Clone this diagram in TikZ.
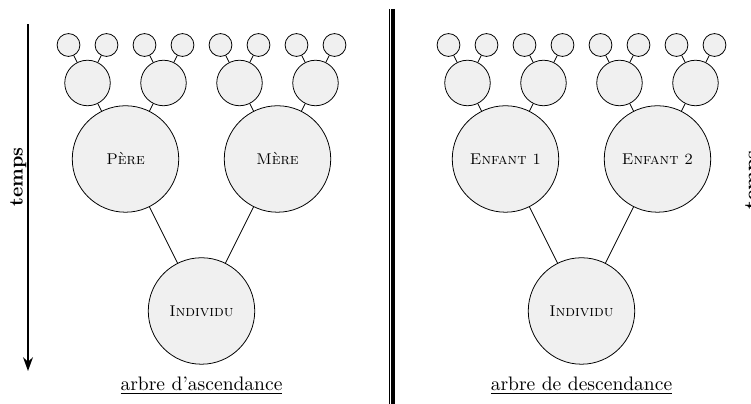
\documentclass[tikz,border=0pt]{standalone}
\usetikzlibrary{arrows.meta}
\definecolor{fondnoeud}{gray}{0.94}

\begin{document}
\begin{tikzpicture}[x=19.45pt,y=19.45pt,
    grand/.style={draw,circle,fill=fondnoeud,inner sep=0pt,minimum size=54.5pt,font=\footnotesize},
    moyen/.style={draw,circle,fill=fondnoeud,inner sep=0pt,minimum size=23.3pt},
    petit/.style={draw,circle,fill=fondnoeud,inner sep=0pt,minimum size=11.7pt},
    legende/.style={anchor=base},
    axe/.style={anchor=base,rotate=90,font=\bfseries}]
        \useasboundingbox (-5.303,-2.447) rectangle (14.461,8.184);

        % arbre d'ascendance
        \node [grand](i1)at(0,0){\textsc{Individu}};
        \node [grand](p)at(-2,4){\textsc{Père}};
        \node [grand](m)at(2,4){\textsc{Mère}};
        \node [moyen](gp1)at(-3,6){};
        \node [moyen](gp2)at(-1,6){};
        \node [moyen](gp3)at(1,6){};
        \node [moyen](gp4)at(3,6){};
        \node [petit](ag1)at(-3.5,7){};
        \node [petit](ag2)at(-2.5,7){};
        \node [petit](ag3)at(-1.5,7){};
        \node [petit](ag4)at(-0.5,7){};
        \node [petit](ag5)at(0.5,7){};
        \node [petit](ag6)at(1.5,7){};
        \node [petit](ag7)at(2.5,7){};
        \node [petit](ag8)at(3.5,7){};

        \draw (i1) -- (p);
        \draw (i1) -- (m);
        \draw (p) -- (gp1);
        \draw (p) -- (gp2);
        \draw (m) -- (gp3);
        \draw (m) -- (gp4);
        \draw (gp1) -- (ag1);
        \draw (gp1) -- (ag2);
        \draw (gp2) -- (ag3);
        \draw (gp2) -- (ag4);
        \draw (gp3) -- (ag5);
        \draw (gp3) -- (ag6);
        \draw (gp4) -- (ag7);
        \draw (gp4) -- (ag8);

        \node [legende](la)at(0,-2.09){\underline{arbre d'ascendance}};

        % arbre de descendance
        \node [grand](i2)at(10,0){\textsc{Individu}};
        \node [grand](e1)at(8,4){\textsc{Enfant 1}};
        \node [grand](e2)at(12,4){\textsc{Enfant 2}};
        \node [moyen](pe1)at(7,6){};
        \node [moyen](pe2)at(9,6){};
        \node [moyen](pe3)at(11,6){};
        \node [moyen](pe4)at(13,6){};
        \node [petit](ae1)at(6.5,7){};
        \node [petit](ae2)at(7.5,7){};
        \node [petit](ae3)at(8.5,7){};
        \node [petit](ae4)at(9.5,7){};
        \node [petit](ae5)at(10.5,7){};
        \node [petit](ae6)at(11.5,7){};
        \node [petit](ae7)at(12.5,7){};
        \node [petit](ae8)at(13.5,7){};

        \draw (i2) -- (e1);
        \draw (i2) -- (e2);
        \draw (e1) -- (pe1);
        \draw (e1) -- (pe2);
        \draw (e2) -- (pe3);
        \draw (e2) -- (pe4);
        \draw (pe1) -- (ae1);
        \draw (pe1) -- (ae2);
        \draw (pe2) -- (ae3);
        \draw (pe2) -- (ae4);
        \draw (pe3) -- (ae5);
        \draw (pe3) -- (ae6);
        \draw (pe4) -- (ae7);
        \draw (pe4) -- (ae8);

        \node [legende](ld)at(10,-2.09){\underline{arbre de descendance}};

        % temps et separation
        \coordinate (h1) at (-4.566,7.55);
        \coordinate (b1) at (-4.566,-1.58);
        \draw [line width=1.3pt,-{Stealth[length=7pt,width=5pt]}] (h1) -- (b1);
        \node [axe](t1)at(-4.705,3.526){temps};
        \node [axe](t2)at(14.637,3.447){temps};

        \coordinate (s1) at (4.94,7.947);
        \coordinate (s2) at (4.94,-2.6);
        \coordinate (s3) at (5.03,7.947);
        \coordinate (s4) at (5.03,-2.6);
        \draw [line width=0.4pt] (s1) -- (s2);
        \draw [line width=2pt] (s3) -- (s4);
\end{tikzpicture}
\end{document}
